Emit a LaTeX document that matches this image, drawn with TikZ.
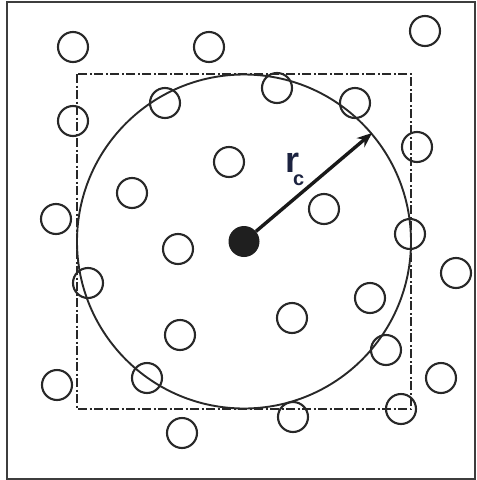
\documentclass[tikz,border=0pt]{standalone}
\usepackage{fontspec}
\setmainfont{Liberation Sans}
\usetikzlibrary{arrows.meta}
\definecolor{ink}{RGB}{40,40,40}
\definecolor{labelcol}{RGB}{28,35,64}
\begin{document}
\begin{tikzpicture}[x=1pt,y=-1pt,
  particle/.style={circle,draw=ink,line width=2.1pt,minimum size=30pt,inner sep=0pt},
  centre/.style={circle,fill=black!88,minimum size=31pt,inner sep=0pt},
  frame/.style={draw=ink!90,line width=1.5pt},
  cutbox/.style={draw=ink,line width=1.2pt,dash pattern=on 9pt off 2.5pt on 2pt off 2.5pt},
  cutsphere/.style={draw=ink,line width=1.9pt},
  radiusarrow/.style={-{Stealth[length=15pt,width=12pt]},line width=3.4pt,draw=black!90}]
\useasboundingbox (0,0) rectangle (477,480);
\draw[frame] (7,2) rectangle (475,479);
\draw[cutbox] (77,74) rectangle (411,409);
\draw[cutsphere] (244,241.5) circle[radius=167pt];
% particles
\node[particle] (p1) at (73,47) {};
\node[particle] (p2) at (209,47) {};
\node[particle] (p3) at (425,31) {};
\node[particle] (p4) at (73,121) {};
\node[particle] (p5) at (165,103) {};
\node[particle] (p6) at (277,88) {};
\node[particle] (p7) at (355,103) {};
\node[particle] (p8) at (417,147) {};
\node[particle] (p9) at (229,162) {};
\node[particle] (p10) at (132,193) {};
\node[particle] (p11) at (56,219) {};
\node[particle] (p12) at (324,209) {};
\node[particle] (p13) at (178,249) {};
\node[particle] (p14) at (410,234) {};
\node[particle] (p15) at (456,273) {};
\node[particle] (p16) at (88,283) {};
\node[particle] (p17) at (370,298) {};
\node[particle] (p18) at (292,318) {};
\node[particle] (p19) at (180,335) {};
\node[particle] (p20) at (386,350) {};
\node[particle] (p21) at (57,385) {};
\node[particle] (p22) at (147,378) {};
\node[particle] (p23) at (441,378) {};
\node[particle] (p24) at (401,409) {};
\node[particle] (p25) at (293,417) {};
\node[particle] (p26) at (182,433) {};
% central particle and cutoff radius
\node[centre] (c) at (244,241.5) {};
\coordinate (rim) at (372,133);
\draw[radiusarrow] (c) -- (rim);
\node[anchor=base west,inner sep=0pt,text=labelcol] (rc) at (285,172)
  {\fontsize{36}{36}\selectfont\bfseries r\kern-6pt\raisebox{-13pt}{\fontsize{20}{20}\selectfont\bfseries c}};
\end{tikzpicture}
\end{document}
